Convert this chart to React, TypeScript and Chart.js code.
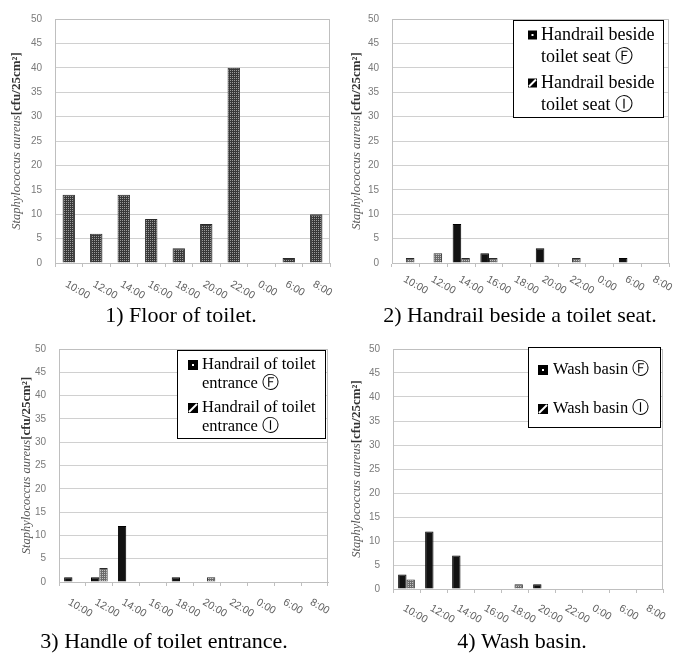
import React, { useEffect, useRef } from "react";
import { Chart, registerables } from "chart.js";

Chart.register(...registerables);

// ---------- data ----------
const categories = ["10:00", "12:00", "14:00", "16:00", "18:00", "20:00", "22:00", "0:00", "6:00", "8:00"];
const yMin = 0;
const yMax = 50;
const yStep = 5;

const floorValues = [14, 6, 14, 9, 3, 8, 40, 0, 1, 10];
const seatF = [0, 0, 8, 2, 0, 3, 0, 0, 1, 0];
const seatI = [1, 2, 1, 1, 0, 0, 1, 0, 0, 0];
const entranceF = [1, 1, 12, 0, 1, 0, 0, 0, 0, 0];
const entranceI = [0, 3, 0, 0, 0, 1, 0, 0, 0, 0];
const basinF = [3, 12, 7, 0, 0, 1, 0, 0, 0, 0];
const basinI = [2, 0, 0, 0, 1, 0, 0, 0, 0, 0];

const captions = [
  "1) Floor of toilet.",
  "2) Handrail beside a toilet seat.",
  "3) Handle of toilet entrance.",
  "4) Wash basin.",
];
const seatLegend = [["Handrail beside", "toilet seat \u24BB"], ["Handrail beside", "toilet seat \u24BE"]];
const entranceLegend = [["Handrail of toilet", "entrance \u24BB"], ["Handrail of toilet", "entrance \u24BE"]];
const basinLegend = [["Wash basin \u24BB"], ["Wash basin \u24BE"]];
const yTitleItalic = "Staphylococcus aureus";
const yTitleUnit = "[cfu/25cm\u00B2]";

// ---------- layout (canvas-local coordinates) ----------
type Legend = {
  x: number; y: number; w: number; h: number;
  font: number; textX: number; swX: number; sw: number;
  lines: number[][];
  labels: string[][];
};
type Panel = {
  left: number; top: number; w: number; h: number;
  plot: { l: number; r: number; t: number; b: number };
  titleX: number;
  xLabelDy: number; xLabelDx: number;
  caption: { x: number; y: number; text: string };
  legend: Legend | null;
  series: { label: string; data: number[]; kind: "floor" | "F" | "I" }[];
  grouped: boolean;
};

const panels: Panel[] = [
  {
    left: 0, top: 0, w: 340, h: 330,
    plot: { l: 55, r: 330, t: 16, b: 263 },
    titleX: 17, xLabelDy: 16, xLabelDx: 0,
    caption: { x: 181, y: 322, text: captions[0] },
    legend: null,
    series: [{ label: "Floor of toilet", data: floorValues, kind: "floor" }],
    grouped: false,
  },
  {
    left: 340, top: 0, w: 340, h: 330,
    plot: { l: 52, r: 329, t: 16, b: 263 },
    titleX: 17, xLabelDy: 11, xLabelDx: 1,
    caption: { x: 180, y: 322, text: captions[1] },
    legend: { x: 173, y: 20, w: 150, h: 97, font: 18, textX: 201, swX: 188, sw: 9, lines: [[35, 57], [83, 105]], labels: seatLegend },
    series: [
      { label: "Handrail beside toilet seat F", data: seatF, kind: "F" },
      { label: "Handrail beside toilet seat I", data: seatI, kind: "I" },
    ],
    grouped: true,
  },
  {
    left: 0, top: 330, w: 340, h: 325,
    plot: { l: 59, r: 328, t: 18, b: 252 },
    titleX: 27, xLabelDy: 15, xLabelDx: -1,
    caption: { x: 164, y: 318, text: captions[2] },
    legend: { x: 177, y: 20, w: 148, h: 88, font: 16.5, textX: 202, swX: 188, sw: 10, lines: [[35, 54], [78, 97]], labels: entranceLegend },
    series: [
      { label: "Handrail of toilet entrance F", data: entranceF, kind: "F" },
      { label: "Handrail of toilet entrance I", data: entranceI, kind: "I" },
    ],
    grouped: true,
  },
  {
    left: 340, top: 330, w: 340, h: 325,
    plot: { l: 53, r: 323, t: 17, b: 259 },
    titleX: 17, xLabelDy: 14, xLabelDx: 0,
    caption: { x: 182, y: 318, text: captions[3] },
    legend: { x: 188, y: 17, w: 132, h: 80, font: 16.5, textX: 213, swX: 198, sw: 10, lines: [[40], [79]], labels: basinLegend },
    series: [
      { label: "Wash basin F", data: basinF, kind: "F" },
      { label: "Wash basin I", data: basinI, kind: "I" },
    ],
    grouped: true,
  },
];

function makePattern(bg: string, fg: string, size: number, cells: number[][]) {
  const c = document.createElement("canvas");
  c.width = size;
  c.height = size;
  const g = c.getContext("2d")!;
  g.fillStyle = bg;
  g.fillRect(0, 0, size, size);
  g.fillStyle = fg;
  for (const [x, y] of cells) g.fillRect(x, y, 1, 1);
  return g.createPattern(c, "repeat")!;
}

function makeOverlay(p: Panel) {
  return {
    id: "overlay",
    afterDraw(chart: any) {
      const ctx: CanvasRenderingContext2D = chart.ctx;
      const a = chart.chartArea;
      const xs = chart.scales.x;
      ctx.save();
      // top & right border of plot
      ctx.strokeStyle = "#bfbfbf";
      ctx.lineWidth = 1;
      ctx.beginPath();
      ctx.moveTo(a.left, a.top + 0.5);
      ctx.lineTo(a.right - 0.5, a.top + 0.5);
      ctx.lineTo(a.right - 0.5, a.bottom);
      ctx.stroke();

      // rotated x labels
      ctx.fillStyle = "#606060";
      ctx.font = "10.5px 'Liberation Sans', Arial, sans-serif";
      ctx.textAlign = "left";
      ctx.textBaseline = "top";
      categories.forEach((c, i) => {
        const x = xs.getPixelForTick(i) + p.xLabelDx;
        ctx.save();
        ctx.translate(x, a.bottom + p.xLabelDy);
        ctx.rotate((30 * Math.PI) / 180);
        ctx.fillText(c, 0, 0);
        ctx.restore();
      });

      // y title
      const fI = "italic 12.5px 'Liberation Serif', serif";
      const fU = "bold 13px 'Liberation Serif', serif";
      ctx.font = fI;
      const w1 = ctx.measureText(yTitleItalic).width;
      ctx.font = fU;
      const w2 = ctx.measureText(yTitleUnit).width;
      const total = w1 + w2;
      ctx.save();
      ctx.translate(p.titleX, (a.top + a.bottom) / 2);
      ctx.rotate(-Math.PI / 2);
      ctx.textBaseline = "middle";
      ctx.textAlign = "left";
      ctx.font = fI;
      ctx.fillStyle = "#555555";
      ctx.fillText(yTitleItalic, -total / 2, 0);
      ctx.font = fU;
      ctx.fillStyle = "#333333";
      ctx.fillText(yTitleUnit, -total / 2 + w1, 0);
      ctx.restore();

      // legend
      const L = p.legend;
      if (L) {
        ctx.fillStyle = "#ffffff";
        ctx.fillRect(L.x, L.y, L.w, L.h);
        ctx.strokeStyle = "#000000";
        ctx.lineWidth = 1;
        ctx.strokeRect(L.x + 0.5, L.y + 0.5, L.w, L.h);
        ctx.font = `${L.font}px 'Liberation Serif', 'Times New Roman', serif`;
        ctx.textBaseline = "middle";
        ctx.textAlign = "left";
        L.labels.forEach((lines, k) => {
          const ys = L.lines[k];
          const sy = ys[0] - L.sw / 2;
          // swatch
          ctx.fillStyle = "#000000";
          ctx.fillRect(L.swX, sy, L.sw, L.sw);
          if (k === 0) {
            ctx.fillStyle = "#ffffff";
            ctx.fillRect(L.swX + L.sw / 2 - 1, sy + L.sw / 2 - 1, 2, 2);
          } else {
            ctx.strokeStyle = "#ffffff";
            ctx.lineWidth = 2;
            ctx.beginPath();
            ctx.moveTo(L.swX + 1, sy + L.sw - 1);
            ctx.lineTo(L.swX + L.sw - 1, sy + 1);
            ctx.stroke();
          }
          ctx.fillStyle = "#000000";
          lines.forEach((t, j) => ctx.fillText(t, L.textX, ys[j]));
        });
      }

      // caption
      ctx.fillStyle = "#000000";
      ctx.font = "22px 'Liberation Serif', 'Times New Roman', serif";
      ctx.textAlign = "center";
      ctx.textBaseline = "alphabetic";
      ctx.fillText(p.caption.text, p.caption.x, p.caption.y);
      ctx.restore();
    },
  };
}

function ChartPanel({ p }: { p: Panel }) {
  const ref = useRef<HTMLCanvasElement>(null);
  useEffect(() => {
    const floorPat = makePattern("#383838", "#9c9c9c", 2, [[0, 0]]);
    const iPat = makePattern("#6a6a6a", "#c4c4c4", 2, [[0, 0]]);
    const datasets = p.series.map((s) => ({
      label: s.label,
      data: s.data,
      backgroundColor: s.kind === "floor" ? floorPat : s.kind === "I" ? iPat : "#121212",
      borderColor: s.kind === "F" ? "#000000" : "#2a2a2a",
      borderWidth: 1,
      barPercentage: p.grouped ? 1 : 0.45,
      categoryPercentage: p.grouped ? 0.62 : 1,
    }));
    const chart = new Chart(ref.current!, {
      type: "bar",
      data: { labels: categories, datasets },
      options: {
        animation: false,
        responsive: false,
        devicePixelRatio: 1,
        layout: { padding: { left: 0, top: p.plot.t, right: p.w - p.plot.r, bottom: 0 } },
        plugins: { legend: { display: false }, tooltip: { enabled: false }, title: { display: false } },
        scales: {
          x: {
            ticks: { display: false },
            grid: { drawOnChartArea: false, drawTicks: true, tickLength: 4, color: "#bfbfbf" },
            border: { display: true, color: "#bfbfbf" },
            afterFit: (s: any) => { s.height = p.h - p.plot.b; },
          },
          y: {
            min: yMin,
            max: yMax,
            ticks: {
              stepSize: yStep,
              padding: 13,
              color: "#7a7a7a",
              font: { family: "'Liberation Sans', Arial, sans-serif", size: 10 },
            },
            grid: { color: "#d0d0d0", drawTicks: false },
            border: { display: true, color: "#bfbfbf" },
            afterFit: (s: any) => { s.width = p.plot.l; },
          },
        },
      },
      plugins: [makeOverlay(p)],
    } as any);
    return () => chart.destroy();
  }, [p]);
  return (
    <canvas
      ref={ref}
      width={p.w}
      height={p.h}
      style={{ position: "absolute", left: p.left, top: p.top, width: p.w, height: p.h }}
    />
  );
}

export default function App() {
  return (
    <div style={{ position: "absolute", left: 0, top: 0, width: 680, height: 655, background: "#ffffff" }}>
      {panels.map((p, i) => (
        <ChartPanel key={i} p={p} />
      ))}
    </div>
  );
}
